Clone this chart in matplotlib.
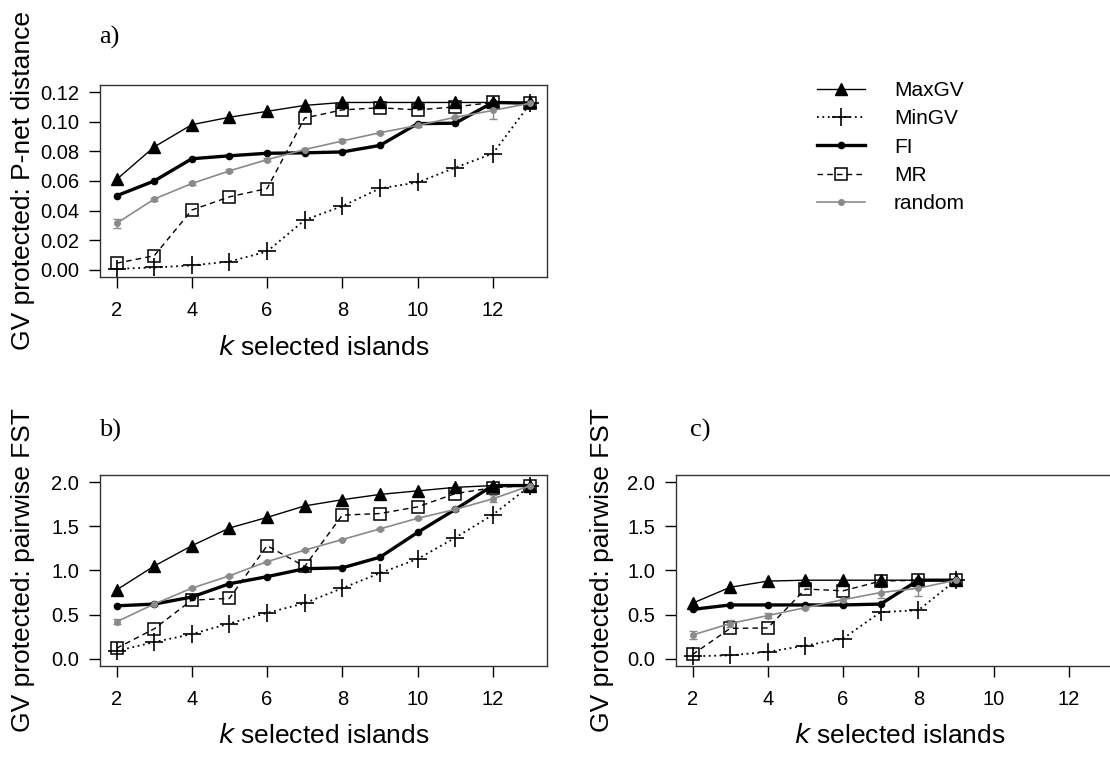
import matplotlib
matplotlib.use("Agg")
import matplotlib.pyplot as plt
from matplotlib.lines import Line2D

# ---- data ----
k_full = [2, 3, 4, 5, 6, 7, 8, 9, 10, 11, 12, 13]
k_short = [2, 3, 4, 5, 6, 7, 8, 9]

# a) P-net distance
a_maxgv = [0.061, 0.083, 0.098, 0.103, 0.107, 0.111, 0.113, 0.113, 0.113, 0.113, 0.113, 0.113]
a_mingv = [0.0007, 0.0016, 0.003, 0.0056, 0.0124, 0.0336, 0.043, 0.055, 0.059, 0.069, 0.0785, 0.1125]
a_fi = [0.050, 0.060, 0.075, 0.077, 0.0787, 0.079, 0.0796, 0.084, 0.0987, 0.099, 0.113, 0.1125]
a_mr = [0.0045, 0.0095, 0.0404, 0.0493, 0.0549, 0.1025, 0.108, 0.1094, 0.108, 0.110, 0.113, 0.1125]
a_rand = [0.0314, 0.0478, 0.0583, 0.0668, 0.0744, 0.0812, 0.087, 0.0926, 0.0975, 0.103, 0.1076, 0.1125]
a_rand_err = [0.003, 0.001, 0.001, 0.001, 0.001, 0.001, 0.001, 0.001, 0.001, 0.001, 0.006, 0.0]

# b) pairwise FST, all islands
b_maxgv = [0.78, 1.05, 1.28, 1.48, 1.60, 1.73, 1.80, 1.86, 1.90, 1.94, 1.96, 1.96]
b_mingv = [0.09, 0.19, 0.28, 0.40, 0.52, 0.63, 0.80, 0.97, 1.13, 1.37, 1.63, 1.96]
b_fi = [0.60, 0.62, 0.70, 0.85, 0.93, 1.02, 1.03, 1.15, 1.43, 1.69, 1.96, 1.96]
b_mr = [0.12, 0.34, 0.665, 0.684, 1.28, 1.046, 1.626, 1.644, 1.719, 1.869, 1.936, 1.96]
b_rand = [0.42, 0.62, 0.80, 0.94, 1.10, 1.23, 1.35, 1.47, 1.59, 1.69, 1.81, 1.96]
b_rand_err = [0.03, 0.02, 0.01, 0.01, 0.01, 0.01, 0.01, 0.01, 0.01, 0.02, 0.04, 0.0]

# c) pairwise FST, subset
c_maxgv = [0.63, 0.81, 0.88, 0.89, 0.89, 0.89, 0.89, 0.89]
c_mingv = [0.03, 0.04, 0.08, 0.15, 0.23, 0.53, 0.55, 0.89]
c_fi = [0.56, 0.61, 0.61, 0.61, 0.61, 0.62, 0.89, 0.89]
c_mr = [0.05, 0.345, 0.35, 0.79, 0.77, 0.88, 0.89, 0.89]
c_rand = [0.27, 0.40, 0.49, 0.58, 0.67, 0.75, 0.80, 0.89]
c_rand_err = [0.05, 0.04, 0.03, 0.02, 0.03, 0.06, 0.09, 0.0]

GREY = "#8a8a8a"
SANS = "Liberation Sans"
SERIF = "Liberation Serif"
plt.rcParams["font.family"] = SANS

STYLES = {
    "MaxGV": dict(color="black", lw=1.0, ls="-", marker="^", ms=8, mfc="black"),
    "MinGV": dict(color="black", lw=1.3, ls=(0, (1, 2)), marker="+", ms=13, mew=1.2),
    "FI": dict(color="black", lw=2.4, ls="-", marker="o", ms=4.5, mfc="black"),
    "MR": dict(color="black", lw=1.0, ls=(0, (4, 3)), marker="s", ms=9, mfc="none", mew=1.1),
    "random": dict(color=GREY, lw=1.2, ls="-", marker="o", ms=4, mfc=GREY),
}


def draw_panel(ax, k, maxgv, mingv, fi, mr, rand, rand_err, ylim, yticks, yfmt, ylabel, ylab_x):
    ax.errorbar(k, rand, yerr=rand_err, capsize=3, elinewidth=1.0, **STYLES["random"])
    ax.plot(k, mr, **STYLES["MR"])
    ax.plot(k, mingv, **STYLES["MinGV"])
    ax.plot(k, fi, **STYLES["FI"])
    ax.plot(k, maxgv, **STYLES["MaxGV"])
    pad = 0.04 * (13 - 2)
    ax.set_xlim(2 - pad, 13 + pad)
    ypad = 0.04 * (ylim[1] - ylim[0])
    ax.set_ylim(ylim[0] - ypad, ylim[1] + ypad)
    ax.set_xticks([2, 4, 6, 8, 10, 12])
    ax.set_yticks(yticks)
    ax.set_yticklabels([yfmt.format(v) for v in yticks])
    ax.tick_params(direction="out", length=8, width=1, labelsize=14.5)
    ax.tick_params(axis="x", pad=9)
    ax.tick_params(axis="y", pad=7)
    for s in ax.spines.values():
        s.set_linewidth(1.0)
        s.set_color("#333333")
    ax.set_xlabel(r"$\it{k}$ selected islands", fontsize=19)
    ax.set_ylabel(ylabel, fontsize=19)
    ax.xaxis.set_label_coords(0.5, -0.305)
    ax.yaxis.set_label_coords(ylab_x, 0.5)


fig = plt.figure(figsize=(11.10, 7.58), dpi=100)

ax_a = fig.add_axes([0.0901, 0.6346, 0.4027, 0.2533])
ax_b = fig.add_axes([0.0901, 0.1214, 0.4027, 0.2520])
ax_c = fig.add_axes([0.6090, 0.1214, 0.4027, 0.2520])

draw_panel(ax_a, k_full, a_maxgv, a_mingv, a_fi, a_mr, a_rand, a_rand_err,
           (0, 0.12), [0.0, 0.02, 0.04, 0.06, 0.08, 0.10, 0.12], "{:.2f}",
           "GV protected: P-net distance", -0.146)
draw_panel(ax_b, k_full, b_maxgv, b_mingv, b_fi, b_mr, b_rand, b_rand_err,
           (0, 2.0), [0.0, 0.5, 1.0, 1.5, 2.0], "{:.1f}",
           "GV protected: pairwise FST", -0.146)
draw_panel(ax_c, k_short, c_maxgv, c_mingv, c_fi, c_mr, c_rand, c_rand_err,
           (0, 2.0), [0.0, 0.5, 1.0, 1.5, 2.0], "{:.1f}",
           "GV protected: pairwise FST", -0.139)

fig.text(0.089, 0.942, "a)", family=SERIF, fontsize=19)
fig.text(0.089, 0.424, "b)", family=SERIF, fontsize=19)
fig.text(0.622, 0.424, "c)", family=SERIF, fontsize=19)

handles = [Line2D([], [], **STYLES[name]) for name in ["MaxGV", "MinGV", "FI", "MR", "random"]]
fig.legend(handles, ["MaxGV", "MinGV", "FI", "MR", "random"], loc="upper left",
           bbox_to_anchor=(0.719, 0.918), frameon=False, fontsize=15,
           handlelength=2.3, handletextpad=1.4, labelspacing=0.45)

fig.savefig("out.png", dpi=100)
